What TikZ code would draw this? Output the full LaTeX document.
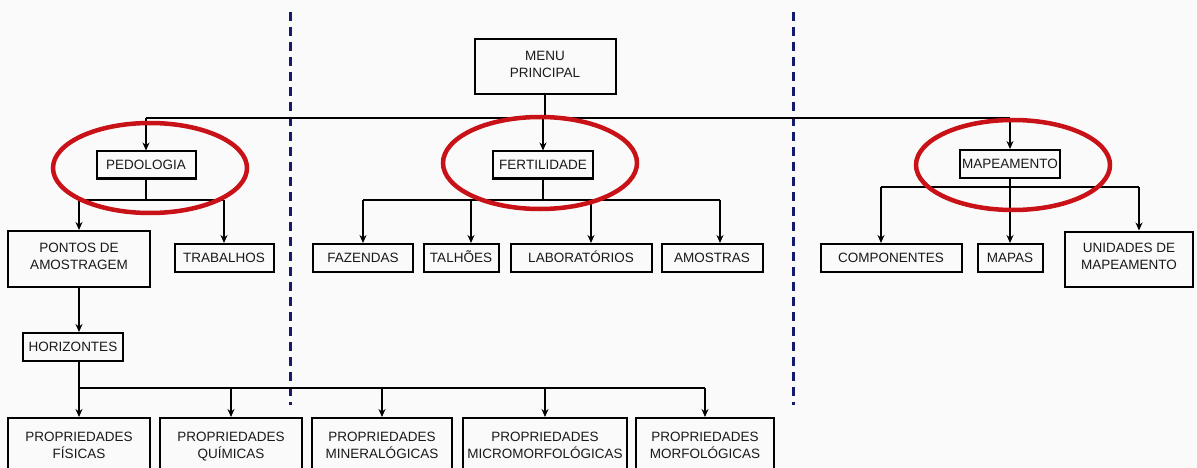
\documentclass[tikz,border=0pt]{standalone}
\usepackage{fontspec}
\setmainfont{Liberation Sans}
\usetikzlibrary{arrows.meta}

\definecolor{fundo}{RGB}{250,250,250}
\definecolor{marinho}{RGB}{22,26,108}
\definecolor{realcado}{RGB}{200,18,24}

\tikzset{
  caixa/.style={draw,line width=2pt,inner sep=0pt,align=center,
    text=black!90,font=\fontsize{13.5}{17}\selectfont,
    execute at begin node=\strut,execute at end node=\strut},
  linha/.style={caixa,text height=9.7pt,text depth=0pt,minimum height=28pt},
  liga/.style={line width=2pt},
  seta/.style={liga,->},
  realce/.style={draw=realcado,line width=4.5pt},
  divisa/.style={marinho,line width=3pt,dash pattern=on 9pt off 6pt},
}

\begin{document}
\begin{tikzpicture}[x=1pt,y=-1pt,>={Stealth[length=8pt,width=7pt]}]
         \useasboundingbox (0,0) rectangle (1197,468);
         \fill[fundo] (0,0) rectangle (1197,468);
         % divisorias
         \draw[divisa] (290,12) -- (290,405);
         \draw[divisa] (793,12) -- (793,405);

         \node[caixa,minimum width=141pt,minimum height=55pt] (menu) at (545,67) {MENU\\PRINCIPAL};

         \node[linha,minimum width=99pt,minimum height=27pt] (pedo) at (146,165) {PEDOLOGIA};
         \node[linha,minimum width=100pt,minimum height=27pt] (fert) at (543,165) {FERTILIDADE};
         \node[linha,minimum width=100pt] (mapa) at (1010,164) {MAPEAMENTO};

         \node[caixa,minimum width=142pt,minimum height=56pt] (pontos) at (79,259) {PONTOS DE\\AMOSTRAGEM};
         \node[linha,minimum width=99pt] (trab) at (224,258) {TRABALHOS};
         \node[linha,minimum width=100pt] (faz) at (363,258) {FAZENDAS};
         \node[linha,minimum width=75pt] (talh) at (461,258) {TALHÕES};
         \node[linha,minimum width=141pt] (lab) at (581,258) {LABORATÓRIOS};
         \node[linha,minimum width=101pt] (amos) at (712,258) {AMOSTRAS};
         \node[linha,minimum width=141pt] (comp) at (891,258) {COMPONENTES};
         \node[linha,minimum width=65pt] (mapas) at (1010,258) {MAPAS};
         \node[caixa,minimum width=128pt,minimum height=55pt] (unid) at (1129,259) {UNIDADES DE\\MAPEAMENTO};

         \node[linha,minimum width=100pt] (horiz) at (73,347) {HORIZONTES};

         \node[caixa,minimum width=142pt,minimum height=60pt] (fis) at (79,448) {PROPRIEDADES\\FÍSICAS};
         \node[caixa,minimum width=142pt,minimum height=60pt] (quim) at (231,448) {PROPRIEDADES\\QUÍMICAS};
         \node[caixa,minimum width=140pt,minimum height=60pt] (miner) at (382,448) {PROPRIEDADES\\MINERALÓGICAS};
         \node[caixa,minimum width=164pt,minimum height=60pt] (micro) at (545,448) {PROPRIEDADES\\MICROMORFOLÓGICAS};
         \node[caixa,minimum width=138pt,minimum height=60pt] (morf) at (705,448) {PROPRIEDADES\\MORFOLÓGICAS};

         % barras horizontais
         \coordinate (b0) at (0,118);
         \coordinate (b1) at (0,200);
         \coordinate (b2) at (0,187);
         \coordinate (b3) at (0,388);

         % menu
         \draw[liga] (menu.south) -- (menu.south |- b0);
         \draw[liga] (pedo.north |- b0) -- (mapa.north |- b0);
         \draw[seta] (pedo.north |- b0) -- (pedo.north);
         \draw[seta] (fert.north |- b0) -- (fert.north);
         \draw[seta] (mapa.north |- b0) -- (mapa.north);

         % pedologia
         \draw[liga] (pedo.south) -- (pedo.south |- b1);
         \draw[liga] (pontos.north |- b1) -- (trab.north |- b1);
         \draw[seta] (pontos.north |- b1) -- (pontos.north);
         \draw[seta] (trab.north |- b1) -- (trab.north);
         \draw[seta] (pontos.south) -- (pontos.south |- horiz.north);

         % fertilidade
         \draw[liga] (fert.south) -- (fert.south |- b1);
         \draw[liga] (faz.north |- b1) -- ([xshift=8pt]amos.north |- b1);
         \draw[seta] (faz.north |- b1) -- (faz.north);
         \draw[seta] ([xshift=10pt]talh.north |- b1) -- ([xshift=10pt]talh.north);
         \draw[seta] ([xshift=10pt]lab.north |- b1) -- ([xshift=10pt]lab.north);
         \draw[seta] ([xshift=8pt]amos.north |- b1) -- ([xshift=8pt]amos.north);

         % mapeamento
         \draw[seta] (mapa.south) -- (mapas.north);
         \draw[liga] ([xshift=-10pt]comp.north |- b2) -- ([xshift=10pt]unid.north |- b2);
         \draw[seta] ([xshift=-10pt]comp.north |- b2) -- ([xshift=-10pt]comp.north);
         \draw[seta] ([xshift=10pt]unid.north |- b2) -- ([xshift=10pt]unid.north);

         % horizontes
         \draw[liga] (pontos.south |- horiz.south) -- (pontos.south |- b3);
         \draw[liga] (pontos.south |- b3) -- (morf.north |- b3);
         \draw[seta] (pontos.south |- b3) -- (pontos.south |- fis.north);
         \draw[seta] (quim.north |- b3) -- (quim.north);
         \draw[seta] (miner.north |- b3) -- (miner.north);
         \draw[seta] (micro.north |- b3) -- (micro.north);
         \draw[seta] (morf.north |- b3) -- (morf.north);

         % destaques
         \draw[realce] (150,168) ellipse (97 and 45);
         \draw[realce] (540,163) ellipse (97 and 46);
         \draw[realce] (1013,165) ellipse (97 and 45);
      \end{tikzpicture}
\end{document}
